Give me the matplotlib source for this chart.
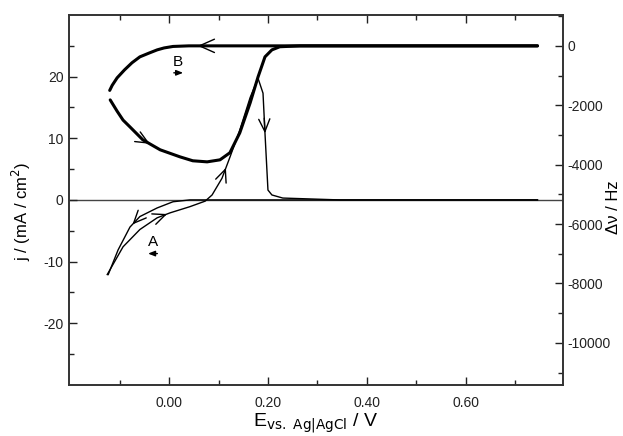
import numpy as np
import matplotlib
matplotlib.use('Agg')
import matplotlib.pyplot as plt

plt.rcParams['font.family'] = ['Liberation Sans', 'DejaVu Sans']
plt.rcParams['axes.unicode_minus'] = False

# current density j (mA/cm2), forward scan (cathodic limit -> anodic limit)
j_E_fwd = [-0.125, -0.093, -0.059, -0.024, 0.002, 0.042, 0.073, 0.087, 0.107,
           0.123, 0.143, 0.164, 0.180, 0.190, 0.194, 0.200, 0.208, 0.230, 0.345, 0.745]
j_fwd = [-12.1, -7.6, -4.8, -2.9, -2.1, -1.1, -0.2, 0.8, 3.5,
         6.9, 11.3, 16.6, 19.7, 17.3, 10.8, 1.6, 0.8, 0.3, 0.0, 0.0]
# reverse scan
j_E_rev = [0.745, 0.042, 0.008, -0.024, -0.059, -0.079, -0.103, -0.123]
j_rev = [0.0, 0.0, -0.3, -1.3, -2.7, -4.4, -8.1, -12.1]

# frequency shift (Hz), forward scan
dv_E_fwd = [-0.119, -0.105, -0.093, -0.079, -0.053, -0.018, 0.022, 0.048, 0.077,
            0.103, 0.123, 0.143, 0.164, 0.180, 0.194, 0.208, 0.224, 0.265, 0.745]
dv_fwd = [-1820, -2200, -2500, -2730, -3165, -3500, -3737, -3870, -3906,
          -3838, -3600, -2930, -1920, -1044, -370, -135, -30, 0, 0]
# reverse scan
dv_E_rev = [0.745, 0.100, 0.040, 0.008, -0.010, -0.024, -0.040, -0.059,
            -0.075, -0.090, -0.105, -0.115, -0.120]
dv_rev = [0, 0, 0, -20, -70, -135, -240, -370, -570, -808, -1077, -1330, -1500]

x_ticks = [0.0, 0.2, 0.4, 0.6]
j_ticks = [-20, -10, 0, 10, 20]
dv_ticks = [-10000, -8000, -6000, -4000, -2000, 0]

# scan direction labels
label_B = (0.018, 22.4)
label_A = (-0.032, -6.9)


def arrow_on(axis, xs, ys, x0, dx, scale=10):
    xs = np.asarray(xs)
    ys = np.asarray(ys)
    order = np.argsort(xs)
    y0 = np.interp(x0, xs[order], ys[order])
    y1 = np.interp(x0 + dx, xs[order], ys[order])
    axis.annotate('', xy=(x0 + dx, y1), xytext=(x0, y0),
                  arrowprops=dict(arrowstyle='->,head_length=0.9,head_width=0.4',
                                  color='k', lw=1.0, shrinkA=0, shrinkB=0,
                                  mutation_scale=scale))


fig = plt.figure(figsize=(6.23, 4.36), dpi=100)
ax = fig.add_axes([0.111, 0.117, 0.793, 0.849])
ax2 = ax.twinx()

ax.axhline(0, color='#444444', lw=1.0, zorder=1)

ax.plot(j_E_fwd, j_fwd, color='k', lw=1.0)
ax.plot(j_E_rev, j_rev, color='k', lw=1.0)
ax2.plot(dv_E_fwd, dv_fwd, color='k', lw=2.2, solid_capstyle='round')
ax2.plot(dv_E_rev, dv_rev, color='k', lw=2.2, solid_capstyle='round')

# arrows along the curves
arrow_on(ax, j_E_fwd, j_fwd, 0.112, 0.003)
arrow_on(ax, j_E_fwd[13:17], j_fwd[13:17], 0.1925, 0.0015)
arrow_on(ax, j_E_rev, j_rev, -0.070, -0.004)
arrow_on(ax, j_E_fwd, j_fwd, -0.010, 0.006)
arrow_on(ax2, dv_E_fwd, dv_fwd, -0.045, 0.006)
arrow_on(ax2, dv_E_rev, dv_rev, 0.066, -0.008, scale=12)

ax.text(label_B[0], label_B[1], 'B', fontsize=11, ha='center', va='center')
ax.annotate('', xy=(label_B[0] + 0.016, label_B[1] - 1.8),
            xytext=(label_B[0] - 0.014, label_B[1] - 1.8),
            arrowprops=dict(arrowstyle='-|>,head_length=0.5,head_width=0.2',
                            color='k', lw=1.0, mutation_scale=8))
ax.text(label_A[0], label_A[1], 'A', fontsize=11, ha='center', va='center')
ax.annotate('', xy=(label_A[0] - 0.016, label_A[1] - 1.8),
            xytext=(label_A[0] + 0.014, label_A[1] - 1.8),
            arrowprops=dict(arrowstyle='-|>,head_length=0.5,head_width=0.2',
                            color='k', lw=1.0, mutation_scale=8))

ax.set_xlim(-0.202, 0.797)
ax.set_ylim(-30, 30)
ax2.set_ylim(-11420, 1045)

ax.set_xticks(x_ticks)
ax.set_xticks([-0.1, 0.1, 0.3, 0.5, 0.7], minor=True)
ax.set_xticklabels(['%.2f' % v for v in x_ticks])
ax.set_yticks(j_ticks)
ax.set_yticks([-25, -15, -5, 5, 15, 25], minor=True)
ax2.set_yticks(dv_ticks)
ax2.set_yticks([-11000, -9000, -7000, -5000, -3000, -1000, 1000], minor=True)

ax.tick_params(which='both', direction='in', top=True, right=False, labelsize=10, colors='#222222')
ax.tick_params(which='major', length=6, width=1)
ax.tick_params(which='minor', length=3.5, width=1)
ax.tick_params(axis='x', pad=8)
ax.tick_params(axis='y', pad=4)
ax2.tick_params(which='both', direction='in', labelsize=10, colors='#222222', pad=3)
ax2.tick_params(which='major', length=6, width=1)
ax2.tick_params(which='minor', length=3.5, width=1)

for a in (ax, ax2):
    for s in a.spines.values():
        s.set_color('#333333')
        s.set_linewidth(1.2)

ax.set_xlabel(r'E$_{\mathrm{vs.\ Ag|AgCl}}$ / V', fontsize=14)
ax.xaxis.set_label_coords(0.5, -0.072)
ax.set_ylabel(r'j / (mA / cm$^2$)', fontsize=12)
ax.yaxis.set_label_coords(-0.073, 0.47)
ax2.set_ylabel('Δν / Hz', fontsize=12)
ax2.yaxis.set_label_coords(1.086, 0.48)

fig.savefig('out.png', dpi=100)
